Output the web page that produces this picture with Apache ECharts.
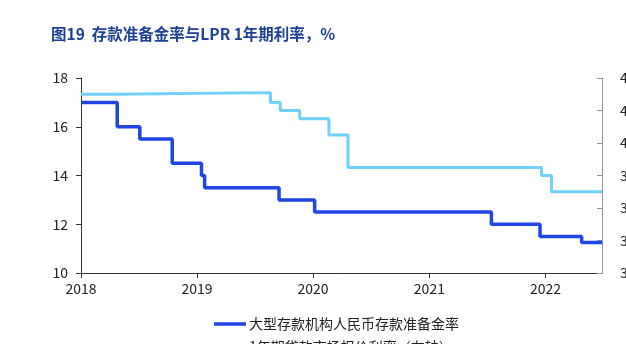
<!DOCTYPE html>
<html><head><meta charset="utf-8">
<script src="https://cdn.jsdelivr.net/npm/echarts@6/dist/echarts.min.js"></script>
<style>html,body{margin:0;padding:0;background:#fff}#c{width:626px;height:344px}</style>
</head><body><div id="c"></div>
<script>
const titleText = '图19  存款准备金率与LPR 1年期利率，%';
const seriesNames = ['大型存款机构人民币存款准备金率', '1年期贷款市场报价利率（右轴）'];
const rrrDates = ['2018-01-01','2018-04-25','2018-07-05','2018-10-15','2019-01-15','2019-01-25','2019-09-16','2020-01-06','2021-07-15','2021-12-15','2022-04-25','2022-06-28'];
const rrrValues = [17, 16, 15.5, 14.5, 14, 13.5, 13, 12.5, 12, 11.5, 11.25, 11.25];
const lprDates = ['2018-01-01','2018-04-08','2019-08-20','2019-09-20','2019-11-20','2020-02-20','2020-04-20','2021-12-20','2022-01-20','2022-06-28'];
const lprValues = [4.30, 4.31, 4.25, 4.20, 4.15, 4.05, 3.85, 3.80, 3.70, 3.70];
const leftTicks = {min: 10, max: 18, interval: 2};
const rightTicks = {min: 3.2, max: 4.4, interval: 0.2};
const xRange = {min: '2018-01-01', max: '2022-06-28'};

const font = '"Noto Sans CJK SC", "Noto Sans", sans-serif';
const chart = echarts.init(document.getElementById('c'), null, {renderer: 'canvas'});
const YEAR = 365.25 * 86400000;
chart.setOption({
  animation: false,
  textStyle: {fontFamily: font},
  title: {text: titleText, left: 46, top: 21,
    textStyle: {fontSize: 15.5, fontWeight: 'bold', color: '#1d3f95', fontFamily: font}},
  grid: {left: 81, right: 24, top: 78, bottom: 71, containLabel: false, outerBoundsMode: 'none'},
  legend: {orient: 'vertical', left: 209, top: 312, height: 100, itemWidth: 32, itemHeight: 12, itemGap: 9,
    textStyle: {fontSize: 14, color: '#222', fontFamily: font, padding: [0,0,0,-2]},
    data: seriesNames.map((n, i) => ({name: n, icon: 'path://M0,0 L32,0 L32,3.5 L0,3.5 Z'}))},
  xAxis: {type: 'time', min: xRange.min, max: xRange.max, minInterval: YEAR * 0.99, maxInterval: YEAR * 1.01,
    axisLine: {lineStyle: {color: '#333', width: 1}},
    axisTick: {show: true, length: 5, lineStyle: {color: '#333'}},
    axisLabel: {fontSize: 14, color: '#222', margin: 9, formatter: '{yyyy}', showMinLabel: true, showMaxLabel: false},
    splitLine: {show: false}},
  yAxis: [
    {type: 'value', min: leftTicks.min, max: leftTicks.max, interval: leftTicks.interval,
      axisLine: {show: true, lineStyle: {color: '#333'}},
      axisTick: {show: true, length: 5, lineStyle: {color: '#333'}},
      axisLabel: {fontSize: 14, color: '#222', margin: 13},
      splitLine: {show: false}},
    {type: 'value', min: rightTicks.min, max: rightTicks.max, interval: rightTicks.interval, position: 'right',
      axisLine: {show: true, lineStyle: {color: '#8a96a3'}},
      axisTick: {show: true, length: 5, inside: true, lineStyle: {color: '#8a96a3'}},
      axisLabel: {fontSize: 14, color: '#222', margin: 18, formatter: v => v.toFixed(1)},
      splitLine: {show: false}}
  ],
  series: [
    {name: seriesNames[0], type: 'line', step: 'end', yAxisIndex: 0, showSymbol: false,
      data: rrrDates.map((d, i) => [d, rrrValues[i]]),
      lineStyle: {color: '#1f45e3', width: 3.5}, itemStyle: {color: '#1f45e3'}},
    {name: seriesNames[1], type: 'line', step: 'end', yAxisIndex: 1, showSymbol: false,
      data: lprDates.map((d, i) => [d, lprValues[i]]),
      lineStyle: {color: '#6fd0fa', width: 3}, itemStyle: {color: '#6fd0fa'}}
  ]
});
</script></body></html>
